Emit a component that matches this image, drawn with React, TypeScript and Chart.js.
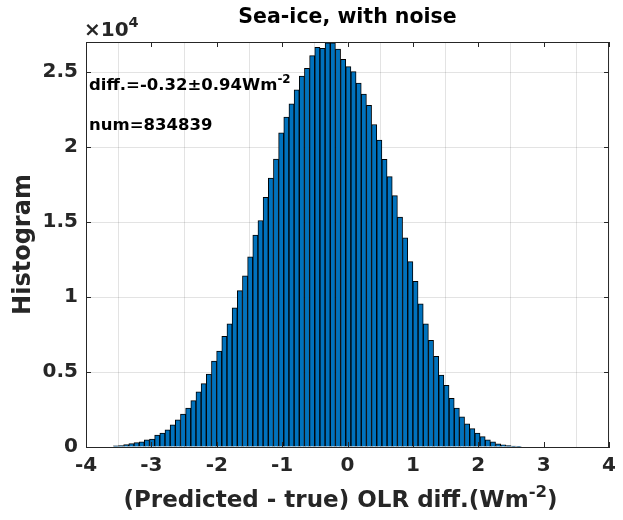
import React, { useEffect, useRef } from "react";
import { Chart, registerables } from "chart.js";
Chart.register(...registerables);

// Histogram bins (left edge of first bin and bin width, in W m^-2)
const BIN_START = -3.582;
const BIN_WIDTH = 0.079;
// Counts per bin (left to right)
const COUNTS = [
  80, 100, 160, 225, 290, 340, 470, 535, 800, 930,
  1150, 1480, 1810, 2190, 2590, 3090, 3670, 4220, 4860, 5720,
  6400, 7375, 8215, 9275, 10420, 11410, 12670, 14130, 15100, 16640,
  17920, 19200, 20950, 22000, 22885, 23810, 24720, 25250, 26090, 26640,
  26570, 26950, 26950, 26530, 25845, 25360, 25030, 24255, 23530, 22780,
  21500, 20460, 19180, 18030, 16755, 15320, 13950, 12360, 11040, 9540,
  8215, 7110, 6050, 4790, 4110, 3250, 2590, 2010, 1550, 1220,
  930, 690, 470, 340, 205, 140, 90, 60, 40,
];
const X_TICKS = [-4, -3, -2, -1, 0, 1, 2, 3, 4];
const Y_TICKS = [0, 5000, 10000, 15000, 20000, 25000];
const Y_TICK_LABELS = ["0", "0.5", "1", "1.5", "2", "2.5"];
const X_MIN = -4;
const X_MAX = 4;
const Y_MAX = 27000;
const TITLE = "Sea-ice, with noise";
const X_LABEL_MAIN = "(Predicted - true) OLR diff.(Wm";
const X_LABEL_SUP = "-2";
const X_LABEL_END = ")";
const Y_LABEL = "Histogram";
const EXP_BASE = "\u00d710";
const EXP_SUP = "4";
const ANNOT1_MAIN = "diff.=-0.32\u00b10.94Wm";
const ANNOT1_SUP = "-2";
const ANNOT2 = "num=834839";

const FONT = '"DejaVu Sans", sans-serif';
const AXIS_COLOR = "#262626";

type Part = { t: string; sup?: boolean };

function drawParts(
  ctx: CanvasRenderingContext2D,
  parts: Part[],
  x: number,
  y: number,
  size: number,
  align: "left" | "center",
  color: string
) {
  const supSize = size * 0.72;
  let total = 0;
  for (const p of parts) {
    ctx.font = `bold ${p.sup ? supSize : size}px ${FONT}`;
    total += ctx.measureText(p.t).width;
  }
  let cx = align === "center" ? x - total / 2 : x;
  ctx.fillStyle = color;
  ctx.textAlign = "left";
  ctx.textBaseline = "alphabetic";
  for (const p of parts) {
    ctx.font = `bold ${p.sup ? supSize : size}px ${FONT}`;
    ctx.fillText(p.t, cx, p.sup ? y - size * 0.45 : y);
    cx += ctx.measureText(p.t).width;
  }
}

const decorPlugin = {
  id: "decor",
  afterDraw(chart: any) {
    const { ctx, chartArea } = chart;
    const { left, right, top, bottom } = chartArea;
    const xs = chart.scales.x;
    const ys = chart.scales.y;
    ctx.save();
    // box
    ctx.strokeStyle = AXIS_COLOR;
    ctx.lineWidth = 1;
    ctx.beginPath();
    ctx.moveTo(left, top + 0.5);
    ctx.lineTo(right, top + 0.5);
    ctx.moveTo(right - 0.5, top);
    ctx.lineTo(right - 0.5, bottom);
    ctx.stroke();
    // inside ticks
    const tl = 5;
    ctx.beginPath();
    for (const v of X_TICKS) {
      const px = Math.round(xs.getPixelForValue(v)) + 0.5;
      ctx.moveTo(px, bottom);
      ctx.lineTo(px, bottom - tl);
      ctx.moveTo(px, top);
      ctx.lineTo(px, top + tl);
    }
    for (const v of Y_TICKS) {
      const py = Math.round(ys.getPixelForValue(v)) + 0.5;
      ctx.moveTo(left, py);
      ctx.lineTo(left + tl, py);
      ctx.moveTo(right, py);
      ctx.lineTo(right - tl, py);
    }
    ctx.stroke();

    // title
    drawParts(ctx, [{ t: TITLE }], (left + right) / 2, 23, 20.5, "center", "#000");
    // exponent
    drawParts(ctx, [{ t: EXP_BASE }, { t: EXP_SUP, sup: true }], left - 2, 36, 20, "left", AXIS_COLOR);
    // annotations
    drawParts(ctx, [{ t: ANNOT1_MAIN }, { t: ANNOT1_SUP, sup: true }], left + 3, 90, 16.5, "left", "#000");
    drawParts(ctx, [{ t: ANNOT2 }], left + 3, 130, 16.5, "left", "#000");
    // x label
    drawParts(
      ctx,
      [{ t: X_LABEL_MAIN }, { t: X_LABEL_SUP, sup: true }, { t: X_LABEL_END }],
      (left + right) / 2 - 7,
      507,
      23,
      "center",
      AXIS_COLOR
    );
    // y label
    ctx.translate(30, (top + bottom) / 2);
    ctx.rotate(-Math.PI / 2);
    drawParts(ctx, [{ t: Y_LABEL }], 0, 0, 24, "center", AXIS_COLOR);
    ctx.restore();
  },
};

export default function App() {
  const ref = useRef<HTMLCanvasElement | null>(null);
  useEffect(() => {
    if (!ref.current) return;
    const data = COUNTS.map((c, i) => ({ x: BIN_START + (i + 0.5) * BIN_WIDTH, y: c }));
    const chart = new Chart(ref.current, {
      type: "bar",
      data: {
        datasets: [
          {
            data: data as any,
            backgroundColor: "#0072BD",
            borderColor: "#000000",
            borderWidth: 1,
            barPercentage: 1,
            categoryPercentage: 1,
          },
        ],
      },
      options: {
        responsive: false,
        animation: false,
        layout: { padding: { left: 0, right: 10, top: 42, bottom: 0 } },
        plugins: { legend: { display: false }, title: { display: false }, tooltip: { enabled: false } },
        scales: {
          x: {
            type: "linear",
            min: X_MIN,
            max: X_MAX,
            offset: false,
            afterFit: (s: any) => {
              s.height = 73;
            },
            afterBuildTicks: (s: any) => {
              s.ticks = X_TICKS.map((v) => ({ value: v }));
            },
            ticks: {
              padding: 7,
              color: AXIS_COLOR,
              font: { family: FONT, size: 20, weight: "bold" },
              callback: (v: any) => String(v),
            },
            grid: { color: "rgba(38,38,38,0.13)", drawTicks: false },
            border: { color: AXIS_COLOR, width: 1 },
          },
          y: {
            type: "linear",
            min: 0,
            max: Y_MAX,
            afterFit: (s: any) => {
              s.width = 86;
            },
            afterBuildTicks: (s: any) => {
              s.ticks = Y_TICKS.map((v) => ({ value: v }));
            },
            ticks: {
              padding: 8,
              color: AXIS_COLOR,
              font: { family: FONT, size: 20, weight: "bold" },
              callback: (v: any) => {
                const i = Y_TICKS.indexOf(Number(v));
                return i >= 0 ? Y_TICK_LABELS[i] : "";
              },
            },
            grid: { color: "rgba(38,38,38,0.13)", drawTicks: false },
            border: { color: AXIS_COLOR, width: 1 },
          },
        },
      },
      plugins: [decorPlugin],
    });
    return () => chart.destroy();
  }, []);
  return (
    <div style={{ position: "absolute", left: 0, top: 0, width: 623, height: 520, background: "#fff" }}>
      <canvas ref={ref} width={623} height={520} style={{ display: "block" }} />
    </div>
  );
}
